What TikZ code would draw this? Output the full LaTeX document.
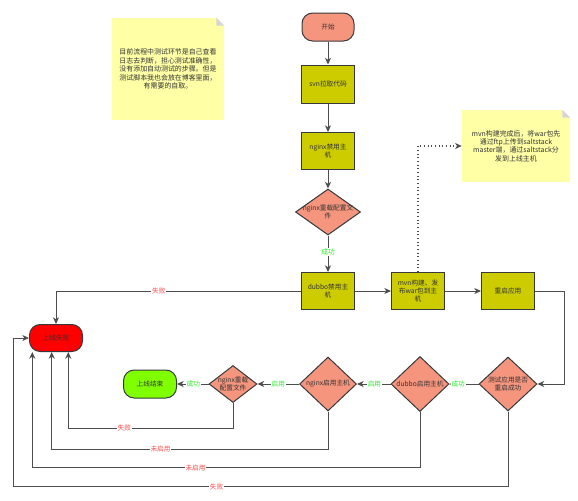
\documentclass[tikz,border=0pt]{standalone}
\usepackage{fontspec}
\setmainfont{Noto Sans CJK SC}
\usetikzlibrary{arrows.meta,shapes.geometric}
\definecolor{salmon}{HTML}{F5957D}
\definecolor{olivey}{HTML}{CCCC00}
\definecolor{notey}{HTML}{FFFFA6}
\definecolor{foldg}{HTML}{D6D6D6}
\definecolor{okgreen}{HTML}{80FF00}
\definecolor{badred}{HTML}{FF0000}
\definecolor{lblgreen}{HTML}{22EE22}
\definecolor{lblred}{HTML}{FF4D4D}
\definecolor{edgec}{HTML}{4D4D4D}
\definecolor{borderc}{HTML}{36393D}
\definecolor{textc}{HTML}{333333}
\begin{document}
\begin{tikzpicture}[x=0.75pt,y=-0.75pt,
  font=\fontsize{5}{6.2}\selectfont,
  box/.style={draw=borderc, fill=olivey, line width=0.75pt, minimum width=39.75pt, minimum height=27.75pt, inner sep=1pt, align=center, text=textc},
  pill/.style={draw=borderc, line width=0.75pt, rounded corners=8pt, minimum width=39.75pt, minimum height=21pt, inner sep=1pt, align=center, text=textc},
  dia/.style={diamond, draw=borderc, fill=salmon, line width=0.75pt, inner sep=0pt},
  diatext/.style={align=center, text=textc},
  note/.style={fill=notey, inner sep=0pt, align=center, text=textc, font=\fontsize{5.2}{6.3}\selectfont},
  arr/.style={draw=edgec, line width=0.75pt, -{Stealth[length=5pt,width=4.5pt,inset=1.5pt]}},
  lbl/.style={fill=white, inner sep=0.6pt},
  glbl/.style={lbl, text=lblgreen},
  rlbl/.style={lbl, text=lblred}
]
\useasboundingbox[fill=white] (0,0) rectangle (578,500);

% notes
\node[note, minimum width=84pt, minimum height=76.5pt] (n1) at (168,69) {目前流程中测试环节是自己查看\\日志去判断，担心测试准确性，\\没有添加自动测试的步骤。但是\\测试脚本我也会放在博客里面，\\有需要的自取。};
\fill[white] (n1.north east) -- ++(-8,0) -- ++(8,8) -- cycle;
\fill[foldg] ([xshift=-6pt]n1.north east) -- ([xshift=-6pt,yshift=-6pt]n1.north east) -- ([yshift=-6pt]n1.north east) -- cycle;

\node[note, minimum width=81pt, minimum height=54pt] (n2) at (516,146) {mvn构建完成后，将war包先\\通过ftp上传到saltstack\\master端，通过saltstack分\\发到上线主机};
\fill[white] (n2.north east) -- ++(-8,0) -- ++(8,8) -- cycle;
\fill[foldg] ([xshift=-6pt]n2.north east) -- ([xshift=-6pt,yshift=-6pt]n2.north east) -- ([yshift=-6pt]n2.north east) -- cycle;

% main column
\node[pill, fill=salmon, minimum width=39pt] (start) at (328,27) {开始};
\node[box, minimum height=28.5pt] (svn) at (328,84) {svn拉取代码};
\node[box] (ngd) at (328,151) {nginx禁用主\\机};
\node[dia, minimum width=48.75pt, minimum height=34.5pt, label={[diatext]center:nginx重载配置文\\件}] (d1) at (328,212) {};
\node[box] (dbd) at (328,291) {dubbo禁用主\\机};
\node[box] (mvn) at (418,291) {mvn构建、发\\布war包到主\\机};
\node[box] (rst) at (508,291) {重启应用};

% bottom row
\node[dia, minimum width=43.5pt, minimum height=40.5pt, label={[diatext]center:测试应用是否\\重启成功}] (test) at (508,384) {};
\node[dia, minimum width=43.5pt, minimum height=41.25pt, label={[diatext]center:dubbo启用主机}] (dbe) at (420,384) {};
\node[dia, minimum width=42.75pt, minimum height=40.5pt, label={[diatext]center:nginx启用主机}] (nge) at (328,384) {};
\node[dia, minimum width=36pt, minimum height=27.75pt, label={[diatext]center:nginx重载\\配置文件}] (ngr) at (233,384) {};
\node[pill, fill=okgreen] (end) at (150,384) {上线结束};
\node[pill, fill=badred, minimum height=20.25pt] (fail) at (56,338) {上线失败};

% main flow
\draw[arr] (start) -- (svn);
\draw[arr] (svn) -- (ngd);
\draw[arr] (ngd) -- (d1);
\draw[arr] (d1) -- node[glbl, pos=0.45]{成功} (dbd);
\draw[arr] (dbd) -- (mvn);
\draw[arr] (mvn) -- (rst);
\coordinate (c7) at (564.3,384);
\draw[arr] (rst.east) -| (c7) -- (test.east);
\draw[arr] (test.west) -- node[glbl, pos=0.7]{成功} (dbe.east);
\draw[arr] (dbe.west) -- node[glbl, pos=0.48]{启用} (nge.east);
\draw[arr] (nge.west) -- node[glbl, pos=0.5]{启用} (ngr.east);
\draw[arr] (ngr.west) -- node[glbl, pos=0.48]{成功} (end.east);

% dotted note link
\draw[arr, dotted, line width=0.9pt] (mvn.north) |- (n2.west);

% failure paths
\draw[arr] (dbd.west) -| node[rlbl, pos=0.29]{失败} (fail.north);

\coordinate (c13) at (68.3,428.3);
\draw[arr] (ngr.south) -- (ngr.south |- c13) -- node[rlbl, pos=0.66]{失败} (c13) -- (c13 |- fail.south);

\coordinate (c14) at (51.7,449.3);
\draw[arr] (nge.south) -- (nge.south |- c14) -- node[rlbl, pos=0.606]{未启用} (c14) -- (c14 |- fail.south);

\coordinate (c15) at (32.3,467.7);
\draw[arr] (dbe.south) -- (dbe.south |- c15) -- node[rlbl, pos=0.579]{未启用} (c15) -- (c15 |- fail.south);

\coordinate (c16) at (13.3,486.7);
\draw[arr] (test.south) -- (test.south |- c16) -- node[rlbl, pos=0.589]{失败} (c16) |- (fail.west);
\end{tikzpicture}
\end{document}
